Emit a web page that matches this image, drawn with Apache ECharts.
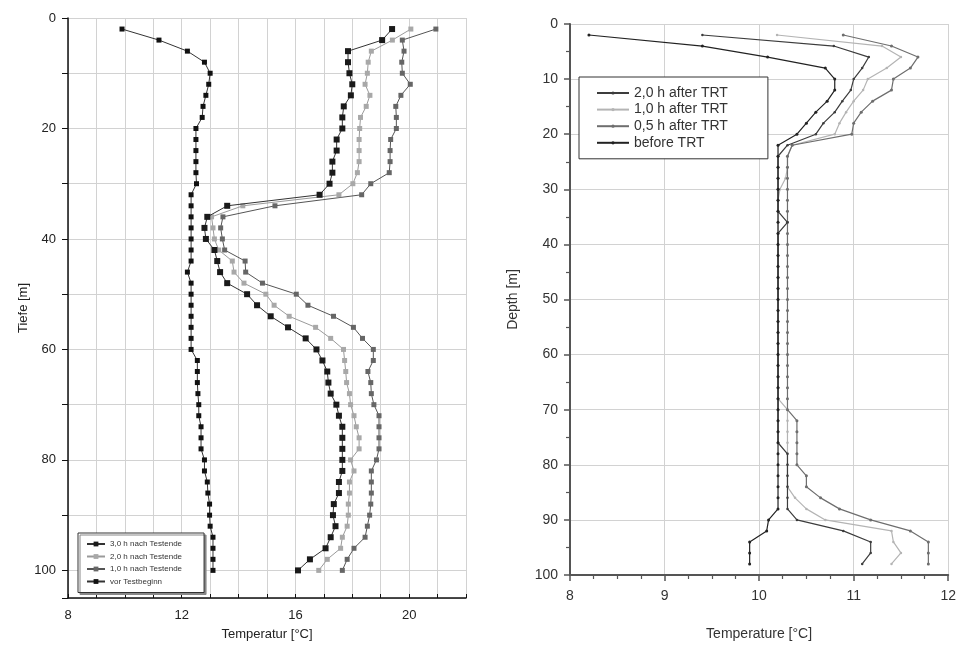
<!DOCTYPE html>
<html>
<head>
<meta charset="utf-8">
<script src="https://cdn.jsdelivr.net/npm/echarts@6/dist/echarts.min.js"></script>
<style>
  html, body { margin: 0; padding: 0; background: #fff; }
  #chart { width: 959px; height: 646px; }
</style>
</head>
<body>
<div id="chart"></div>
<script>
// ---- Left panel: temperature profiles after the test (depth in m, every 2 m) ----
const depthsLeft = [2, 4, 6, 8, 10, 12, 14, 16, 18, 20,
  22, 24, 26, 28, 30, 32, 34, 36, 38, 40,
  42, 44, 46, 48, 50, 52, 54, 56, 58, 60,
  62, 64, 66, 68, 70, 72, 74, 76, 78, 80,
  82, 84, 86, 88, 90, 92, 94, 96, 98, 100];

const namesLeft = ['3,0 h nach Testende', '2,0 h nach Testende', '1,0 h nach Testende', 'vor Testbeginn'];

const temp3hLeft = [19.4, 19.05, 17.85, 17.85, 17.9, 18.0, 17.95, 17.7, 17.65, 17.65,
  17.45, 17.45, 17.3, 17.3, 17.2, 16.85, 13.6, 12.9, 12.8, 12.85,
  13.15, 13.25, 13.35, 13.6, 14.3, 14.65, 15.13, 15.74, 16.36, 16.74,
  16.95, 17.12, 17.16, 17.24, 17.44, 17.53, 17.65, 17.65, 17.65, 17.65,
  17.65, 17.53, 17.53, 17.35, 17.32, 17.41, 17.24, 17.06, 16.51, 16.09];

const temp2hLeft = [20.06, 19.41, 18.67, 18.56, 18.53, 18.45, 18.62, 18.49, 18.29, 18.26,
  18.24, 18.24, 18.24, 18.18, 18.02, 17.53, 14.15, 13.05, 13.1, 13.15,
  13.3, 13.78, 13.84, 14.19, 14.96, 15.25, 15.78, 16.71, 17.24, 17.69,
  17.73, 17.77, 17.8, 17.9, 17.94, 18.06, 18.14, 18.24, 18.24, 17.94,
  18.06, 17.9, 17.9, 17.86, 17.86, 17.82, 17.65, 17.59, 17.12, 16.82];

const temp1hLeft = [20.94, 19.76, 19.82, 19.74, 19.76, 20.04, 19.71, 19.53, 19.55, 19.55,
  19.35, 19.33, 19.33, 19.3, 18.65, 18.33, 15.28, 13.45, 13.37, 13.43,
  13.51, 14.23, 14.25, 14.84, 16.03, 16.44, 17.34, 18.04, 18.36, 18.74,
  18.74, 18.55, 18.65, 18.67, 18.76, 18.94, 18.94, 18.94, 18.94, 18.85,
  18.67, 18.67, 18.67, 18.65, 18.61, 18.53, 18.45, 18.06, 17.82, 17.65];

const tempBeforeLeft = [9.9, 11.2, 12.2, 12.8, 13.0, 12.95, 12.85, 12.75, 12.72, 12.5,
  12.5, 12.5, 12.5, 12.5, 12.52, 12.33, 12.33, 12.33, 12.33, 12.33,
  12.33, 12.33, 12.2, 12.33, 12.33, 12.33, 12.33, 12.33, 12.33, 12.33,
  12.55, 12.55, 12.55, 12.57, 12.6, 12.6, 12.68, 12.68, 12.68, 12.8,
  12.8, 12.9, 12.92, 12.98, 12.98, 13.0, 13.1, 13.1, 13.1, 13.1];

// ---- Right panel: profiles before and after the TRT (depth every 2 m) ----
const depthsRight = [2, 4, 6, 8, 10, 12, 14, 16, 18, 20,
  22, 24, 26, 28, 30, 32, 34, 36, 38, 40,
  42, 44, 46, 48, 50, 52, 54, 56, 58, 60,
  62, 64, 66, 68, 70, 72, 74, 76, 78, 80,
  82, 84, 86, 88, 90, 92, 94, 96, 98];

const namesRight = ['2,0 h after TRT', '1,0 h after TRT', '0,5 h after TRT', 'before TRT'];

const temp2hRight = [9.4, 10.79, 11.16, 11.09, 11.0, 10.97, 10.88, 10.8, 10.68, 10.6,
  10.3, 10.2, 10.2, 10.2, 10.2, 10.2, 10.2, 10.3, 10.2, 10.2,
  10.2, 10.2, 10.2, 10.2, 10.2, 10.2, 10.2, 10.2, 10.2, 10.2,
  10.2, 10.2, 10.2, 10.2, 10.2, 10.2, 10.2, 10.2, 10.3, 10.3,
  10.3, 10.3, 10.3, 10.3, 10.4, 10.89, 11.18, 11.18, 11.09];

const temp1hRight = [10.19, 11.3, 11.5, 11.35, 11.15, 11.1, 11.0, 10.92, 10.85, 10.8,
  10.35, 10.3, 10.3, 10.28, 10.22, 10.2, 10.2, 10.2, 10.2, 10.2,
  10.2, 10.2, 10.2, 10.2, 10.2, 10.2, 10.2, 10.2, 10.2, 10.2,
  10.2, 10.2, 10.2, 10.2, 10.3, 10.3, 10.3, 10.3, 10.3, 10.3,
  10.3, 10.3, 10.38, 10.5, 10.7, 11.4, 11.42, 11.5, 11.4];

const temp05hRight = [10.89, 11.4, 11.68, 11.6, 11.42, 11.4, 11.2, 11.08, 11.0, 10.98,
  10.35, 10.3, 10.3, 10.3, 10.3, 10.3, 10.3, 10.3, 10.3, 10.3,
  10.3, 10.3, 10.3, 10.3, 10.3, 10.3, 10.3, 10.3, 10.3, 10.3,
  10.3, 10.3, 10.3, 10.3, 10.3, 10.4, 10.4, 10.4, 10.4, 10.4,
  10.5, 10.5, 10.65, 10.85, 11.18, 11.6, 11.79, 11.79, 11.79];

const tempBeforeRight = [8.2, 9.4, 10.09, 10.7, 10.8, 10.8, 10.72, 10.6, 10.5, 10.4,
  10.2, 10.2, 10.2, 10.2, 10.2, 10.2, 10.2, 10.2, 10.2, 10.2,
  10.2, 10.2, 10.2, 10.2, 10.2, 10.2, 10.2, 10.2, 10.2, 10.2,
  10.2, 10.2, 10.2, 10.2, 10.2, 10.2, 10.2, 10.2, 10.2, 10.2,
  10.2, 10.2, 10.2, 10.2, 10.1, 10.08, 9.9, 9.9, 9.9];

// Axis tick labels
const leftTempLabels = [8, 12, 16, 20];
const leftDepthLabels = [0, 20, 40, 60, 80, 100];

const FONT = "'Liberation Sans', Arial, sans-serif";
const NARROW = "'Liberation Sans Narrow', 'Liberation Sans', Arial, sans-serif";

function pairs(temps, depths) {
  return temps.map((t, i) => [t, depths[i]]);
}

function leftSeries(name, temps, color, lineColor, size, z) {
  return {
    name, type: 'line', xAxisIndex: 0, yAxisIndex: 0,
    data: pairs(temps, depthsLeft),
    symbol: 'rect', symbolSize: size, showSymbol: true,
    lineStyle: { color: lineColor, width: 1 },
    itemStyle: { color: color },
    z: z, animation: false
  };
}

function rightSeries(name, temps, color, size, z) {
  return {
    name, type: 'line', xAxisIndex: 1, yAxisIndex: 1,
    data: pairs(temps, depthsRight),
    symbol: 'circle', symbolSize: size, showSymbol: true,
    lineStyle: { color: color, width: 1.2 },
    itemStyle: { color: color },
    z: z, animation: false
  };
}

const gridLine = { show: true, lineStyle: { color: '#d2d2d2', width: 1 } };

const option = {
  backgroundColor: '#fff',
  animation: false,
  grid: [
    { left: 68, top: 18, width: 398, height: 580, containLabel: false },
    { left: 570, top: 24, width: 379, height: 551, containLabel: false }
  ],
  xAxis: [
    {
      gridIndex: 0, type: 'value', min: 8, max: 22, interval: 1,
      name: 'Temperatur [°C]', nameLocation: 'middle', nameGap: 30,
      nameTextStyle: { fontFamily: NARROW, fontSize: 13, color: '#222' },
      axisLine: { show: true, onZero: false, lineStyle: { color: '#111', width: 1.5 } },
      axisTick: { show: true, inside: true, length: 4, lineStyle: { color: '#111' } },
      axisLabel: {
        margin: 11, fontFamily: FONT, fontSize: 13, color: '#222',
        formatter: v => (leftTempLabels.indexOf(v) >= 0 ? String(v) : '')
      },
      splitLine: gridLine
    },
    {
      gridIndex: 1, type: 'value', min: 8, max: 12, interval: 1,
      name: 'Temperature [°C]', nameLocation: 'middle', nameGap: 52,
      nameTextStyle: { fontFamily: FONT, fontSize: 14, color: '#333' },
      axisLine: { show: true, onZero: false, lineStyle: { color: '#555', width: 2 } },
      axisTick: { show: true, inside: false, length: 6, lineStyle: { color: '#555', width: 1.5 } },
      minorTick: { show: true, splitNumber: 4, length: 4, lineStyle: { color: '#555', width: 1.2 } },
      axisLabel: { margin: 14, fontFamily: FONT, fontSize: 14, color: '#333' },
      splitLine: gridLine
    }
  ],
  yAxis: [
    {
      gridIndex: 0, type: 'value', min: 0, max: 105, interval: 10, inverse: true,
      name: 'Tiefe [m]', nameLocation: 'middle', nameGap: 38, nameRotate: 90,
      nameTextStyle: { fontFamily: NARROW, fontSize: 13, color: '#222' },
      axisLine: { show: true, onZero: false, lineStyle: { color: '#111', width: 1.5 } },
      axisTick: { show: true, inside: false, length: 6, lineStyle: { color: '#111' } },
      axisLabel: {
        margin: 12, fontFamily: FONT, fontSize: 13, color: '#222',
        formatter: v => (leftDepthLabels.indexOf(v) >= 0 ? String(v) : '')
      },
      splitLine: gridLine
    },
    {
      gridIndex: 1, type: 'value', min: 0, max: 100, interval: 10, inverse: true,
      name: 'Depth [m]', nameLocation: 'middle', nameGap: 50, nameRotate: 90,
      nameTextStyle: { fontFamily: FONT, fontSize: 14, color: '#333' },
      axisLine: { show: true, onZero: false, lineStyle: { color: '#555', width: 2 } },
      axisTick: { show: true, inside: false, length: 6, lineStyle: { color: '#555', width: 1.5 } },
      minorTick: { show: true, splitNumber: 2, length: 4, lineStyle: { color: '#555', width: 1.2 } },
      axisLabel: { margin: 12, fontFamily: FONT, fontSize: 14, color: '#333' },
      splitLine: gridLine
    }
  ],
  legend: [
    {
      data: namesLeft, orient: 'vertical', left: 78, top: 533,
      itemWidth: 18, itemHeight: 6, itemGap: 4.5,
      padding: [7, 22, 7, 8],
      backgroundColor: '#fff', borderColor: '#333', borderWidth: 1,
      shadowColor: '#888', shadowOffsetX: 2, shadowOffsetY: 2, shadowBlur: 0,
      textStyle: { fontFamily: NARROW, fontSize: 8, color: '#333' },
      selectedMode: false
    },
    {
      data: namesRight, orient: 'vertical', left: 579, top: 77,
      itemWidth: 32, itemHeight: 4, itemGap: 2.6,
      padding: [9, 40, 9, 17],
      backgroundColor: '#fff', borderColor: '#333', borderWidth: 1,
      textStyle: { fontFamily: FONT, fontSize: 14, color: '#333' },
      selectedMode: false
    }
  ],
  series: [
    leftSeries(namesLeft[3], tempBeforeLeft, '#111', '#333', 5, 2),
    leftSeries(namesLeft[2], temp1hLeft, '#666', '#555', 5, 3),
    leftSeries(namesLeft[1], temp2hLeft, '#a8a8a8', '#9a9a9a', 5, 4),
    leftSeries(namesLeft[0], temp3hLeft, '#1a1a1a', '#333', 6, 5),
    rightSeries(namesRight[3], tempBeforeRight, '#222', 3, 5),
    rightSeries(namesRight[2], temp05hRight, '#6e6e6e', 3, 3),
    rightSeries(namesRight[1], temp1hRight, '#b4b4b4', 2.5, 2),
    rightSeries(namesRight[0], temp2hRight, '#3c3c3c', 2.5, 4)
  ]
};

const chart = echarts.init(document.getElementById('chart'), null, { renderer: 'canvas' });
chart.setOption(option);
</script>
</body>
</html>
